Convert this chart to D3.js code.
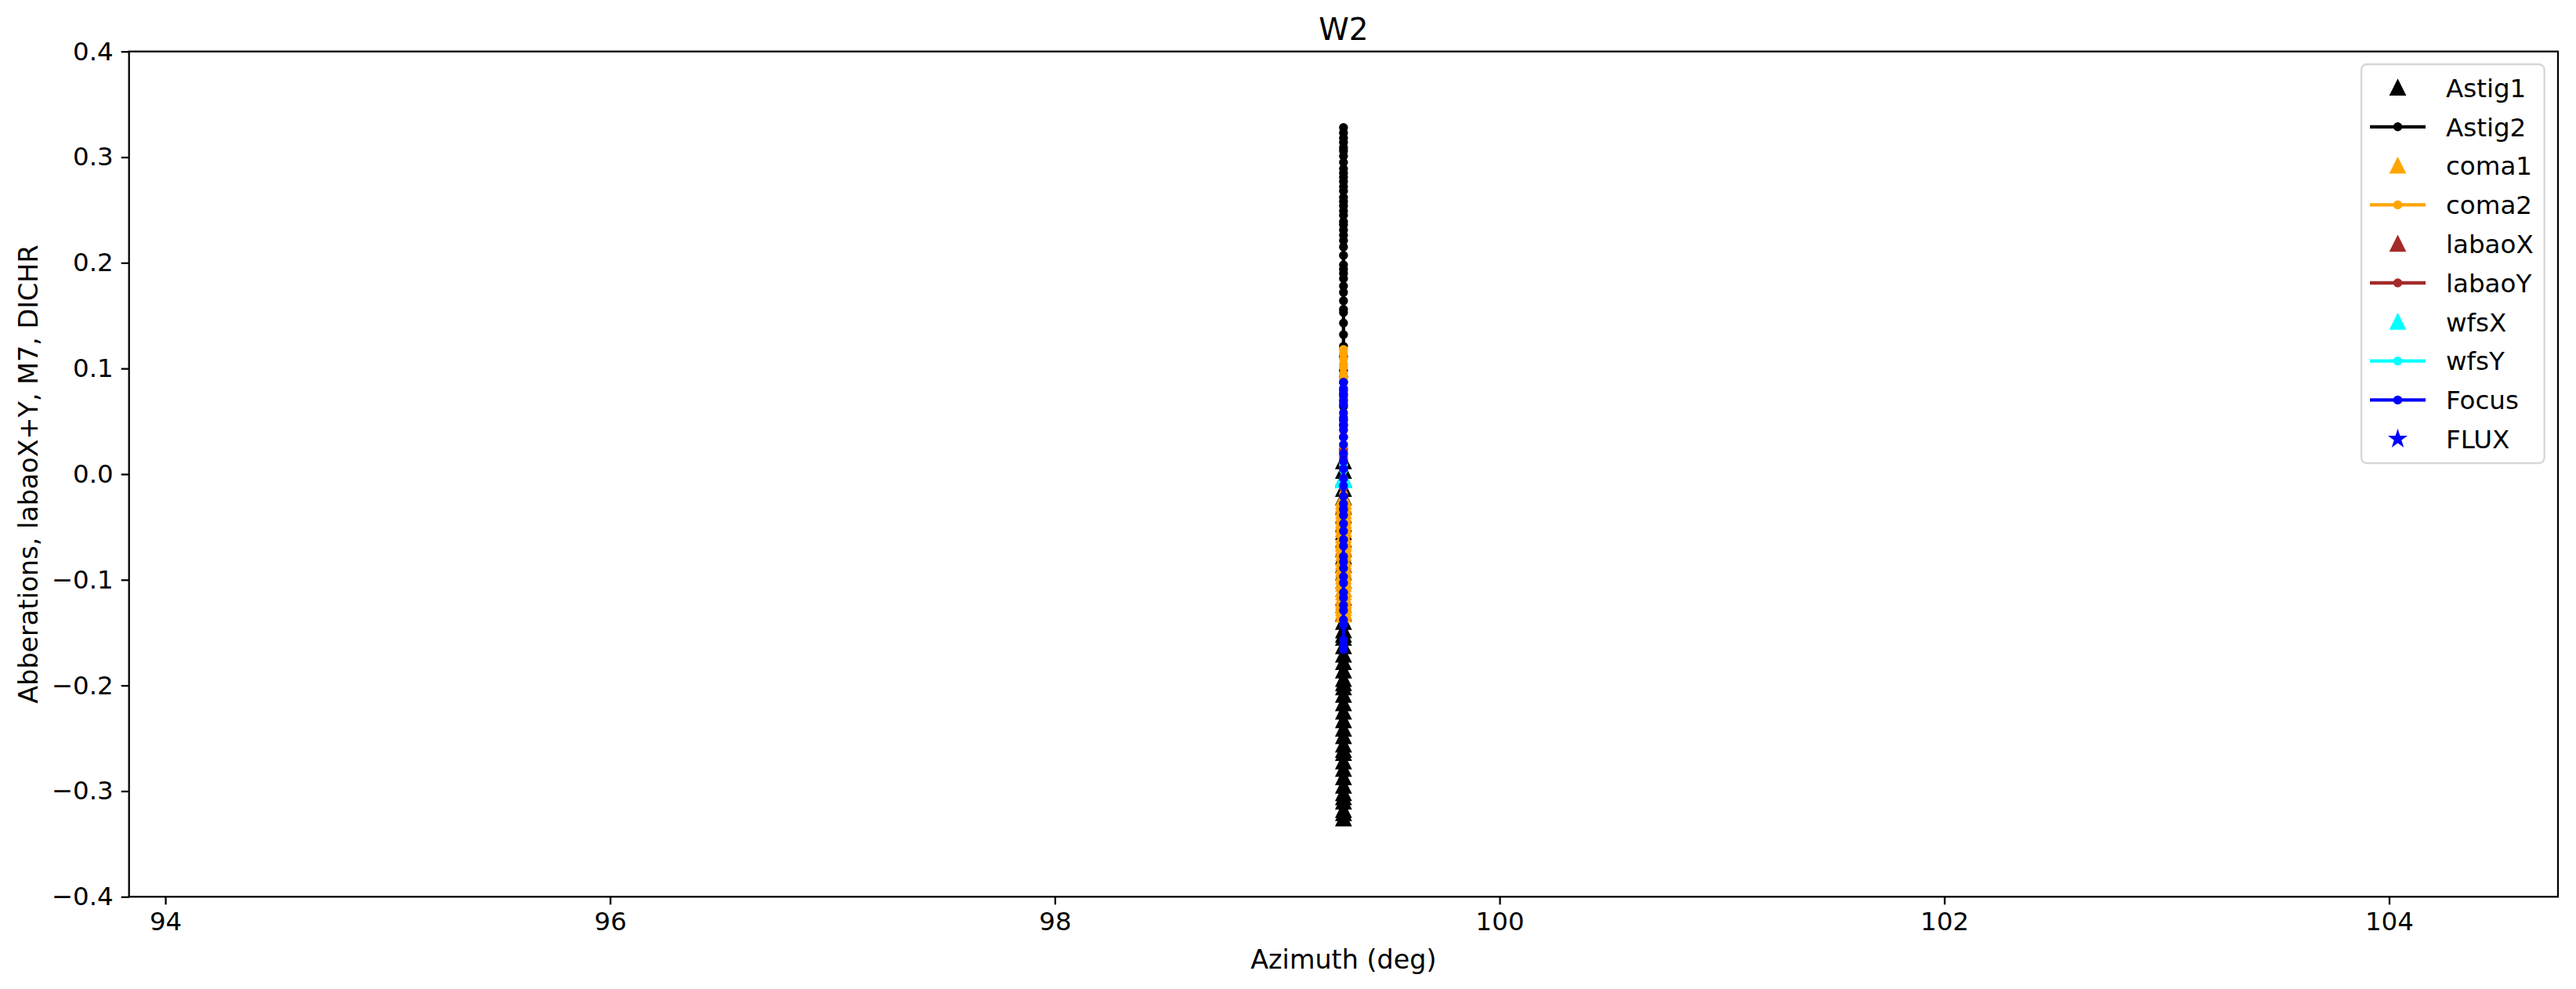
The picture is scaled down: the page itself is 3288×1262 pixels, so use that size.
<!DOCTYPE html>
<html>
<head>
<meta charset="utf-8">
<script src="https://cdn.jsdelivr.net/npm/d3@7"></script>
<style>
  body { margin: 0; background: #fff; }
  svg { display: block; }
  text { font-family: "DejaVu Sans", sans-serif; fill: #000; }
</style>
</head>
<body>
<svg id="chart" width="3288" height="1262"></svg>
<script>
// ---------------- data ----------------
const azimuth = 99.298;               // all samples share one azimuth (deg)
const xTickValues = [94, 96, 98, 100, 102, 104];
const yTickValues = [-0.4, -0.3, -0.2, -0.1, 0.0, 0.1, 0.2, 0.3, 0.4];

const astig1 = [0.012, -0.006, 0.003, -0.014, -0.031, -0.022, -0.047, -0.039, -0.062, -0.055,
  -0.078, -0.071, -0.093, -0.086, -0.109, -0.101, -0.124, -0.117, -0.140, -0.132,
  -0.155, -0.148, -0.171, -0.163, -0.186, -0.178, -0.202, -0.194, -0.217, -0.209,
  -0.233, -0.225, -0.248, -0.241, -0.264, -0.256, -0.279, -0.272, -0.295, -0.287,
  -0.310, -0.302, -0.326, -0.318, -0.321, -0.306, -0.261, -0.198, -0.152];
const astig2 = [0.012, -0.041, 0.087, -0.105, 0.143, -0.162, 0.198, -0.221, 0.254, -0.276,
  0.301, -0.318, 0.328, -0.326, 0.309, -0.297, 0.281, -0.263, 0.236, -0.244,
  0.215, -0.187, 0.172, -0.139, 0.121, -0.083, 0.064, -0.023, 0.035, -0.058,
  0.098, -0.121, 0.132, -0.149, 0.164, -0.176, 0.185, -0.203, 0.207, -0.231,
  0.226, -0.252, 0.245, -0.269, 0.262, -0.288, 0.272, -0.305, 0.289, -0.312,
  0.318, -0.322, 0.295, -0.284, 0.268, -0.257, 0.249, -0.212, 0.231, -0.196,
  0.190, -0.168, 0.156, -0.131, 0.111, -0.094, 0.076, -0.069, 0.051, -0.032,
  0.024, -0.008, 0.003, 0.046, -0.049, 0.071, -0.114, 0.092, 0.153, 0.178,
  0.194, 0.221, 0.239, 0.258, 0.277, 0.285, 0.314, 0.306, 0.323, -0.329, -0.315, -0.299];
const coma1 = [-0.023, -0.041, -0.035, -0.058, -0.049, -0.072, -0.066, -0.087, -0.080,
  -0.101, -0.094, -0.116, -0.109, -0.127, -0.133, -0.121, -0.029, -0.052,
  -0.026, -0.032, -0.038, -0.044, -0.046, -0.053, -0.061, -0.064, -0.069, -0.075,
  -0.083, -0.090, -0.097, -0.104, -0.112, -0.119, -0.124, -0.130];
const coma2 = [0.118, 0.109, 0.101, 0.095, 0.088, 0.072, 0.055, 0.041, 0.026, 0.012,
  -0.004, -0.019, -0.035, -0.051, -0.066, -0.083, -0.097, -0.112, -0.125, 0.114, 0.104, 0.092];
const labaoX = [-0.005, -0.005, -0.004];
const labaoY = [0.021, -0.013, 0.008, -0.034, 0.015];
const wfsX = [-0.005, -0.004, -0.006, -0.005];
const wfsY = [0.004, -0.011, 0.009, -0.006];
const focus = [0.012, -0.021, 0.035, -0.047, 0.058, -0.068, 0.074, -0.089, 0.087, -0.103,
  0.066, -0.117, 0.047, -0.129, 0.028, -0.138, 0.005, -0.143, -0.011, -0.157,
  -0.033, -0.166, -0.054, -0.162, -0.078, -0.097, 0.081, -0.112, 0.042, -0.124,
  0.019, -0.062, -0.004, -0.039, 0.053, -0.083, 0.069, -0.028, 0.079];
const flux = [];

const seriesNames = ["Astig1", "Astig2", "coma1", "coma2", "labaoX", "labaoY", "wfsX", "wfsY", "Focus", "FLUX"];
const seriesValues = [astig1, astig2, coma1, coma2, labaoX, labaoY, wfsX, wfsY, focus, flux];

// ---------------- styles ----------------
const seriesStyle = {
  Astig1: { color: "#000000", kind: "tri" },
  Astig2: { color: "#000000", kind: "line" },
  coma1:  { color: "#FFA500", kind: "tri" },
  coma2:  { color: "#FFA500", kind: "line" },
  labaoX: { color: "#A52A2A", kind: "tri" },
  labaoY: { color: "#A52A2A", kind: "line" },
  wfsX:   { color: "#00FFFF", kind: "tri" },
  wfsY:   { color: "#00FFFF", kind: "line" },
  Focus:  { color: "#0000FF", kind: "line" },
  FLUX:   { color: "#0000FF", kind: "star" }
};

const W = 3288, H = 1262;
const plot = { left: 164.7, top: 65.7, right: 3265, bottom: 1144.3 };
const PT = 206 / 72;                 // px per point
const tickFont = 32.5, labelFont = 33.4, titleFont = 39, legendFont = 32.5;
const markerSize = 6 * PT;           // 6pt markers
const lineW = 1.5 * PT;
const edgeW = 1 * PT;

const svg = d3.select("#chart");
svg.append("rect").attr("width", W).attr("height", H).attr("fill", "#fff");

// x-domain: matplotlib-like handling of a singular range (expand 5%) then 5% margins
const allX = [azimuth];
let x0 = d3.min(allX), x1 = d3.max(allX);
if (x1 - x0 < 1e-9) { x0 = x0 - 0.05 * Math.abs(x0); x1 = x1 + 0.05 * Math.abs(x1); }
const m = (x1 - x0) * 0.05;
const x = d3.scaleLinear().domain([x0 - m, x1 + m]).range([plot.left, plot.right]);
const y = d3.scaleLinear().domain([-0.4, 0.4]).range([plot.bottom, plot.top]);

// ---------------- data marks ----------------
const clipId = "plotclip";
svg.append("clipPath").attr("id", clipId).append("rect")
  .attr("x", plot.left).attr("y", plot.top)
  .attr("width", plot.right - plot.left).attr("height", plot.bottom - plot.top);
const gData = svg.append("g").attr("clip-path", `url(#${clipId})`);

const triSym = d3.symbol().type({
  draw(ctx) {
    const h = markerSize / 2;
    ctx.moveTo(0, -h); ctx.lineTo(h, h); ctx.lineTo(-h, h); ctx.closePath();
  }
});
const starSym = d3.symbol().type({
  draw(ctx) {
    const R = markerSize / 2, r = R * 0.381966;
    for (let i = 0; i < 10; i++) {
      const a = -Math.PI / 2 + i * Math.PI / 5;
      const rr = i % 2 === 0 ? R : r;
      const px = rr * Math.cos(a), py = rr * Math.sin(a);
      if (i === 0) ctx.moveTo(px, py); else ctx.lineTo(px, py);
    }
    ctx.closePath();
  }
});
const dotR = markerSize * 0.25;

function drawMarker(g, kind, color, cx, cy) {
  if (kind === "tri") {
    g.append("path").attr("d", triSym()).attr("transform", `translate(${cx},${cy})`)
      .attr("fill", color).attr("stroke", color).attr("stroke-width", edgeW).attr("stroke-linejoin", "miter");
  } else if (kind === "star") {
    g.append("path").attr("d", starSym()).attr("transform", `translate(${cx},${cy})`)
      .attr("fill", color).attr("stroke", color).attr("stroke-width", edgeW);
  } else {
    g.append("circle").attr("cx", cx).attr("cy", cy).attr("r", dotR)
      .attr("fill", color).attr("stroke", color).attr("stroke-width", edgeW);
  }
}

const lineGen = d3.line().x(() => x(azimuth)).y(d => y(d));
seriesNames.forEach((name, i) => {
  const vals = seriesValues[i];
  const st = seriesStyle[name];
  const g = gData.append("g");
  if (st.kind === "line" && vals.length) {
    g.append("path").attr("d", lineGen(vals)).attr("fill", "none")
      .attr("stroke", st.color).attr("stroke-width", lineW).attr("stroke-linecap", "square");
  }
  vals.forEach(v => drawMarker(g, st.kind, st.color, x(azimuth), y(v)));
});

// ---------------- axes ----------------
const fmtY = d3.format(".1f");
const gx = svg.append("g").attr("transform", `translate(0,${plot.bottom})`)
  .call(d3.axisBottom(x).tickValues(xTickValues).tickSize(10).tickPadding(10).tickFormat(d3.format("d")));
const gy = svg.append("g").attr("transform", `translate(${plot.left},0)`)
  .call(d3.axisLeft(y).tickValues(yTickValues).tickSize(10).tickPadding(10).tickFormat(fmtY));
[gx, gy].forEach(g => {
  g.select(".domain").remove();
  g.selectAll(".tick line").attr("stroke", "#000").attr("stroke-width", 0.8 * PT);
  g.selectAll(".tick text").attr("font-size", tickFont).attr("font-family", "DejaVu Sans").attr("fill", "#000");
});

svg.append("rect").attr("x", plot.left).attr("y", plot.top)
  .attr("width", plot.right - plot.left).attr("height", plot.bottom - plot.top)
  .attr("fill", "none").attr("stroke", "#000").attr("stroke-width", 0.8 * PT);

// labels & title
svg.append("text").attr("x", (plot.left + plot.right) / 2).attr("y", 51)
  .attr("text-anchor", "middle").attr("font-size", titleFont).text("W2");
svg.append("text").attr("x", (plot.left + plot.right) / 2).attr("y", 1236)
  .attr("text-anchor", "middle").attr("font-size", labelFont).text("Azimuth (deg)");
svg.append("text").attr("transform", `translate(48,${(plot.top + plot.bottom) / 2}) rotate(-90)`)
  .attr("text-anchor", "middle").attr("font-size", labelFont).text("Abberations, labaoX+Y, M7, DICHR");

// ---------------- legend ----------------
const leg = { left: 3014, top: 82, bottom: 591, row0: 112, rowH: 49.8, hx0: 3025, hx1: 3096, tx: 3122 };
const gl = svg.append("g");
const frame = gl.append("rect");
let maxEnd = 0;
seriesNames.forEach((name, i) => {
  const st = seriesStyle[name];
  const cy = leg.row0 + i * leg.rowH;
  const hc = (leg.hx0 + leg.hx1) / 2;
  if (st.kind === "line") {
    gl.append("line").attr("x1", leg.hx0).attr("x2", leg.hx1).attr("y1", cy).attr("y2", cy)
      .attr("stroke", st.color).attr("stroke-width", lineW);
  }
  drawMarker(gl, st.kind, st.color, hc, cy);
  const t = gl.append("text").attr("x", leg.tx).attr("y", cy).attr("dy", "0.36em")
    .attr("font-size", legendFont).text(name);
  maxEnd = Math.max(maxEnd, leg.tx + t.node().getComputedTextLength());
});
frame.attr("x", leg.left).attr("y", leg.top)
  .attr("width", maxEnd + 14 - leg.left).attr("height", leg.bottom - leg.top)
  .attr("rx", 7).attr("ry", 7)
  .attr("fill", "#fff").attr("fill-opacity", 0.8)
  .attr("stroke", "#cccccc").attr("stroke-opacity", 0.8).attr("stroke-width", 0.8 * PT);
</script>
</body>
</html>
